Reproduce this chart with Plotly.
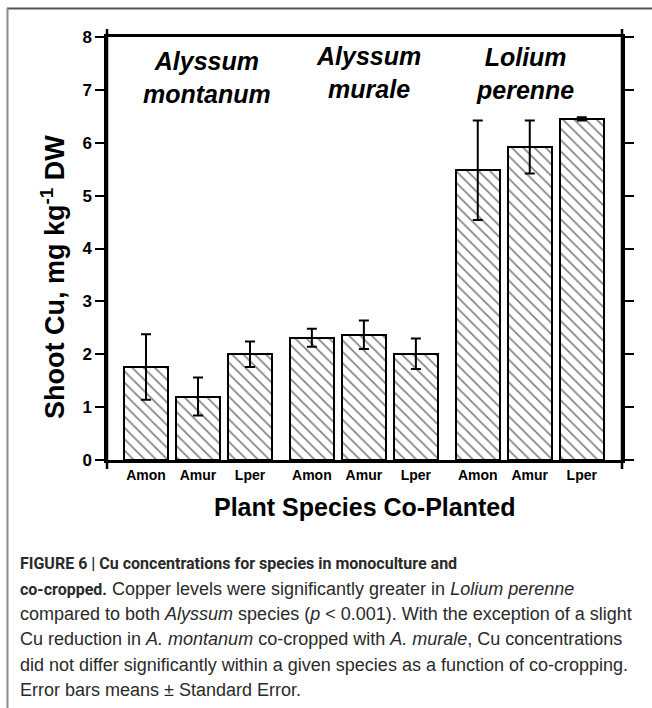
import plotly.graph_objects as go

# ---------------- data ----------------
groups = ["Alyssum montanum", "Alyssum murale", "Lolium perenne"]
members = ["Amon", "Amur", "Lper"]
means = [
    [1.76, 1.20, 2.00],
    [2.31, 2.37, 2.01],
    [5.48, 5.92, 6.45],
]
errors = [
    [0.62, 0.36, 0.24],
    [0.17, 0.27, 0.29],
    [0.94, 0.50, 0.03],
]
y_ticks = [0, 1, 2, 3, 4, 5, 6, 7, 8]

NB = "<span style='font-family:Roboto;font-size:16px'><b>%s</b></span>"
caption_lines = [
    NB % "FIGURE 6 | Cu concentrations for species in monoculture and",
    (NB % "co-cropped.") + " Copper levels were significantly greater in <i>Lolium perenne</i>",
    "compared to both <i>Alyssum</i> species (<i>p</i> &lt; 0.001). With the exception of a slight",
    "Cu reduction in <i>A. montanum</i> co-cropped with <i>A. murale</i>, Cu concentrations",
    "did not differ significantly within a given species as a function of co-cropping.",
    "Error bars means ± Standard Error.",
]

# ---------------- layout helpers ----------------
W, H = 652, 708
L, R, T, B = 107, 622, 37, 460  # plot area in px
GAP = 0.19
BAR_W = 0.85


def px_x(p):
    return (p - L) / (R - L)


def px_y(p):
    return (B - p) / (B - T)


xs, ys, es, labels = [], [], [], []
for g in range(len(groups)):
    for i in range(len(members)):
        xs.append(g * (len(members) + GAP) + i)
        ys.append(means[g][i])
        es.append(errors[g][i])
        labels.append(members[i])

fig = go.Figure()
fig.add_trace(go.Bar(
    x=xs, y=ys, width=BAR_W,
    marker=dict(
        color="white",
        line=dict(color="black", width=2),
        pattern=dict(shape="\\", size=8, solidity=0.2, fgcolor="black", bgcolor="white"),
    ),
    error_y=dict(type="data", array=es, visible=True, color="black", thickness=2, width=5),
    showlegend=False,
))

font_main = "Liberation Sans, Arial, sans-serif"

fig.update_layout(
    width=W, height=H,
    margin=dict(l=L, r=W - R, t=T, b=H - B, pad=0),
    paper_bgcolor="white", plot_bgcolor="white",
    font=dict(family=font_main, color="black"),
    bargap=0,
)

fig.update_xaxes(
    range=[-(146 - L) / 52.0, -(146 - L) / 52.0 + (R - L) / 52.0],
    tickvals=xs, ticktext=["<b>%s</b>" % t for t in labels],
    tickfont=dict(size=14, family=font_main, color="black"),
    showline=True, linecolor="black", linewidth=2.5, mirror=True,
    ticks="", showgrid=False, zeroline=False,
)
fig.update_yaxes(
    range=[0, 8], tickvals=y_ticks, ticktext=["<b>%d</b>" % v for v in y_ticks],
    tickfont=dict(size=17, family=font_main, color="black"),
    showline=True, linecolor="black", linewidth=2.5, mirror="ticks",
    ticks="outside", ticklen=9, tickwidth=2, tickcolor="black",
    showgrid=False, zeroline=False,
)

shapes = []
# vertical axes extended past the frame
for xp in (0, 1):
    shapes.append(dict(type="line", xref="paper", yref="paper",
                       x0=xp, x1=xp, y0=px_y(B + 9), y1=px_y(T - 8),
                       line=dict(color="black", width=2.5)))
# outer gray border (top and left)
shapes.append(dict(type="line", xref="paper", yref="paper",
                   x0=px_x(7), x1=px_x(652), y0=px_y(8.5), y1=px_y(8.5),
                   line=dict(color="#555555", width=2)))
shapes.append(dict(type="line", xref="paper", yref="paper",
                   x0=px_x(7.5), x1=px_x(7.5), y0=px_y(8), y1=px_y(708),
                   line=dict(color="#8a8a8a", width=2)))
fig.update_layout(shapes=shapes)

ann = []
# group labels
g_shift = [9, 5, -5]
g_y = [77, 72, 73]
for g, name in enumerate(groups):
    w1, w2 = name.split(" ")
    cx = g * (len(members) + GAP) + 1
    ann.append(dict(x=cx, xref="x", y=px_y(g_y[g]), yref="paper",
                    text="<b><i>%s</i></b><br><b><i>%s</i></b>" % (w1, w2),
                    showarrow=False, xshift=g_shift[g], xanchor="center", yanchor="middle",
                    font=dict(size=25, family=font_main, color="black")))
# axis titles
ann.append(dict(x=px_x(364), y=px_y(507), xref="paper", yref="paper",
                text="<b>Plant Species Co-Planted</b>", showarrow=False,
                xanchor="center", yanchor="middle",
                font=dict(size=25, family=font_main, color="black")))
ann.append(dict(x=px_x(53), y=px_y(277), xref="paper", yref="paper",
                text="<b>Shoot Cu, mg kg<sup>-1</sup> DW</b>", showarrow=False,
                textangle=-90, xanchor="center", yanchor="middle",
                font=dict(size=27, family=font_main, color="black")))
# caption
cap_y = [563, 589, 614, 639, 665, 690]
for line, yy in zip(caption_lines, cap_y):
    ann.append(dict(x=px_x(18), y=px_y(yy), xref="paper", yref="paper",
                    text=line, showarrow=False, xanchor="left", yanchor="middle",
                    font=dict(size=18, family="Liberation Sans, Arial, sans-serif", color="#2a2a2a")))
fig.update_layout(annotations=ann)

fig.write_html("out.html", post_script="document.body.style.margin='0';",
               config={"displayModeBar": False})
